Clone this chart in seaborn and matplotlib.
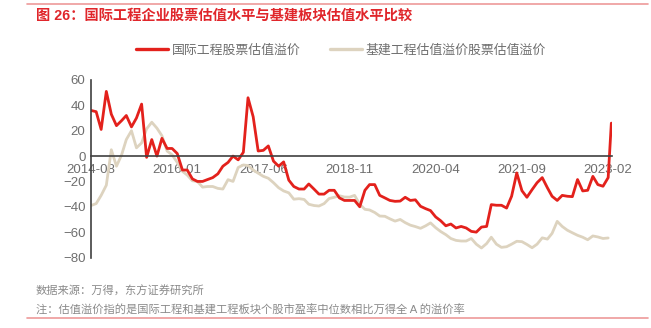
import numpy as np
import pandas as pd
import matplotlib
matplotlib.use("Agg")
import matplotlib.pyplot as plt
from matplotlib.lines import Line2D
import seaborn as sns

# Monthly observations from 2014-08, plus the latest reading in Feb 2023
dates = list(pd.date_range("2014-08-01", periods=103, freq="MS")) + [pd.Timestamp("2023-02-20")]

intl_premium = [
    36, 35, 21, 51, 33, 24, 28, 32, 23, 30, 41, -1, 13, 0, 14, 6, 6, 2, -11, -11,
    -18, -20, -20, -18.5, -17, -14, -8, -5, 0, -3, 3, 46, 31, 4, 4.5, 8, -4, -8, -4.6, -19,
    -24, -26, -26, -22, -26, -30, -30, -27, -27, -33, -35, -35, -35, -40, -27, -22.5, -22.5, -31, -33, -35,
    -35.7, -35.5, -32.5, -35, -34.5, -39.6, -41.5, -43, -48, -51, -55, -53.6, -56.7, -55.5, -56.7, -59.4, -60, -56, -55.5, -38.3,
    -38.8, -38.8, -41, -31.7, -13.3, -27.3, -32.5, -26.5, -21, -17, -25, -31.7, -35, -31, -31.7, -32, -18.5, -27.5, -27, -16,
    -22.5, -23.8, -17, 26,
]

infra_premium = [
    -39, -37.5, -31, -23, 5, -8, 1, 13, 20, 6.5, 10.4, 21.5, 26.7, 22, 16, 4, 1, -5, -12, -15,
    -19.5, -20, -24.5, -24, -24, -25.5, -26, -18.6, -20, -9, -7, -7.5, -11, -13.5, -16, -17.5, -21, -25, -27.5, -29,
    -34, -33.6, -34.2, -38, -39, -39.4, -37.5, -33.5, -32.5, -31.3, -32.3, -32.4, -31, -38, -42, -42.5, -44.5, -47.3, -47.5, -49.5,
    -51.3, -50, -52.5, -54.5, -55.6, -57, -55, -52.7, -56.5, -59.5, -62, -65, -66.5, -67, -67, -65, -69.5, -72.5, -69, -64,
    -69.5, -72, -71.5, -69.5, -67.2, -67.5, -69.7, -72.3, -69.5, -64.5, -65.5, -61, -51.5, -55.5, -58.5, -60.5, -62.5, -64, -66, -63,
    -63.8, -65, -64.6,
]

tick_labels = ["2014-08", "2016-01", "2017-06", "2018-11", "2020-04", "2021-09", "2023-02"]
series_names = ["国际工程股票估值溢价", "基建工程估值溢价股票估值溢价"]

RED = "#E3211C"
BEIGE = "#DDD3BF"
GREY_TXT = "#6E6E6E"
AXIS = "#404040"

df = pd.concat([
    pd.DataFrame({"date": dates[:len(infra_premium)], "value": infra_premium, "series": series_names[1]}),
    pd.DataFrame({"date": dates, "value": intl_premium, "series": series_names[0]}),
], ignore_index=True)

sns.set_theme(style="white")
plt.rcParams["font.family"] = ["Liberation Sans", "Noto Sans CJK SC", "DejaVu Sans"]

fig = plt.figure(figsize=(6.51, 3.28), dpi=100)
ax = fig.add_axes([91 / 651, 1 - 257.5 / 328, (612 - 91) / 651, (257.5 - 80) / 328])

sns.lineplot(data=df, x="date", y="value", hue="series",
             hue_order=[series_names[1], series_names[0]],
             palette={series_names[0]: RED, series_names[1]: BEIGE},
             linewidth=2.0, legend=False, ax=ax)

ax.set_ylim(-80, 60)
ax.set_yticks(np.arange(-80, 61, 20))
ax.set_xlim(dates[0], pd.Timestamp("2023-02-24"))
tick_dates = [pd.Timestamp(t + "-01") for t in tick_labels]
ax.set_xticks(tick_dates)
ax.set_xticklabels(tick_labels)
ax.set_xlabel("")
ax.set_ylabel("")
ax.set_axisbelow(True)

for s in ["top", "right"]:
    ax.spines[s].set_visible(False)
ax.spines["bottom"].set_position(("data", 0))
for s in ["left", "bottom"]:
    ax.spines[s].set_color(AXIS)
    ax.spines[s].set_linewidth(1.2)
ax.tick_params(axis="both", direction="in", length=4, width=1.1, color=AXIS,
               labelsize=9.5, labelcolor=GREY_TXT)
ax.tick_params(axis="x", pad=6)
ax.tick_params(axis="y", pad=4)
ax.grid(False)

# title, legend and notes
fig.add_artist(Line2D([27 / 651, 648 / 651], [1 - 4 / 328] * 2, color="#EE9A9A", lw=1.2))
fig.text(36 / 651, 1 - 15.5 / 328, "图 26：国际工程企业股票估值水平与基建板块估值水平比较",
         color="#E0262B", fontsize=10.3, fontweight="bold", va="center", ha="left")

handles = [Line2D([], [], color=RED, lw=2.4), Line2D([], [], color=BEIGE, lw=2.4)]
leg = fig.legend(handles, series_names, loc="center", bbox_to_anchor=(341 / 651, 1 - 50.5 / 328),
                 ncol=2, frameon=False, fontsize=9.3, handlelength=2.45, handletextpad=0.3,
                 columnspacing=2.3)
for t in leg.get_texts():
    t.set_color(GREY_TXT)

fig.text(36 / 651, 1 - 291 / 328, "数据来源：万得，东方证券研究所", color="#8A8A8A",
         fontsize=8.1, va="center", ha="left")
fig.text(36 / 651, 1 - 310 / 328, "注：估值溢价指的是国际工程和基建工程板块个股市盈率中位数相比万得全 A 的溢价率",
         color="#8A8A8A", fontsize=8.1, va="center", ha="left")
fig.add_artist(Line2D([27 / 651, 648 / 651], [1 - 318 / 328] * 2, color="#EE9A9A", lw=1.2))

fig.savefig("out.png", dpi=100)
